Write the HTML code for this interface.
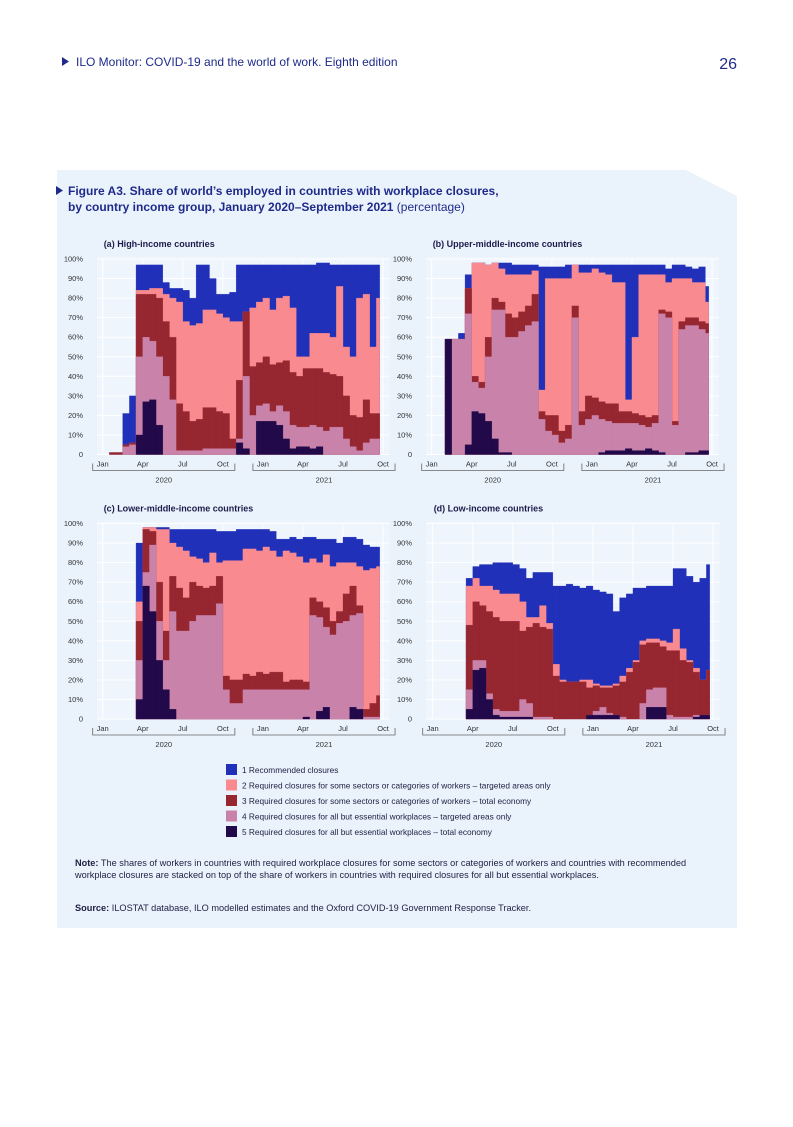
<!DOCTYPE html>
<html><head><meta charset="utf-8">
<style>
html,body{margin:0;padding:0;background:#fff;}
body{width:793px;height:1122px;position:relative;overflow:hidden;font-family:"Liberation Sans",sans-serif;}
svg text{font-family:"Liberation Sans",sans-serif;}
.note{position:absolute;left:75px;width:650px;font-size:9.2px;line-height:12px;color:#222244;}
</style></head>
<body>
<svg id="page" width="793" height="1122" viewBox="0 0 793 1122" xmlns="http://www.w3.org/2000/svg">
  <polygon points="57,170 686,170 737,196 737,928 57,928" fill="#eaf3fc"/>
  <polygon points="62,57 62,66 69,61.5" fill="#1f2a8a"/>
  <text x="76" y="66" font-size="12" fill="#1f2a8a">ILO Monitor: COVID-19 and the world of work. Eighth edition</text>
  <text x="737" y="69" font-size="16" fill="#1f2a8a" text-anchor="end">26</text>
  <polygon points="56,186 56,195 63,190.5" fill="#1f2a8a"/>
  <text x="68" y="195" font-size="12" font-weight="bold" fill="#1f2a8a">Figure A3.  Share of world’s employed in countries with workplace closures,</text>
  <text x="68" y="211" font-size="12" fill="#1f2a8a"><tspan font-weight="bold">by country income group, January 2020–September 2021</tspan> (percentage)</text>
  <g id="charts"></g>
  <g id="legend"></g>
</svg>
<div class="note" style="top:857px"><b>Note:</b> The shares of workers in countries with required workplace closures for some sectors or categories of workers and countries with recommended workplace closures are stacked on top of the share of workers in countries with required closures for all but essential workplaces.</div>
<div class="note" style="top:902px"><b>Source:</b> ILOSTAT database, ILO modelled estimates and the Oxford COVID-19 Government Response Tracker.</div>
<script>
// Cumulative shares (%) of employed in countries with closure level >= k, half-month bins Jan 2020 – Sep 2021
const monthLabels = ["Jan","Apr","Jul","Oct","Jan","Apr","Jul","Oct"];
const yTicks = [0,10,20,30,40,50,60,70,80,90,100];
const yearLabels = ["2020","2021"];
const seriesNames = ["1 Recommended closures","2 Required closures for some sectors or categories of workers – targeted areas only","3 Required closures for some sectors or categories of workers – total economy","4 Required closures for all but essential workplaces – targeted areas only","5 Required closures for all but essential workplaces – total economy"];
const seriesColors = ["#2130b8","#f98b90","#962630","#c983aa","#22094a"];

const aL5 = [0,0,0,0,0,10,27,28,15,0,0,0,0,0,0,0,0,0,0,0,6,3,0,17,17,17,15,8,3,4,4,3,4,0,0,0,0,0,0,0,0,0];
const aL4 = [0,0,0,4,5,50,60,58,50,40,28,2,2,2,2,3,3,3,3,3,8,40,20,25,26,22,25,22,15,14,14,15,14,12,14,14,8,4,2,6,8,8];
const aL3 = [0,1,1,5,6,82,82,82,80,68,60,26,22,17,18,24,24,22,21,8,38,73,45,47,50,46,47,48,42,40,44,44,44,42,41,40,30,20,19,28,21,21];
const aL2 = [0,1,1,5,6,84,84,85,85,82,80,78,68,66,67,74,74,72,70,68,68,73,75,78,80,74,80,81,75,50,50,62,62,62,60,86,55,50,80,82,55,80];
const aL1 = [0,1,1,21,30,97,97,97,97,88,85,85,84,80,97,97,90,82,82,83,97,97,97,97,97,97,97,97,97,97,97,97,98,98,97,97,97,97,97,97,97,97];

const bL5 = [0,0,59,0,0,5,22,21,17,8,1,1,0,0,0,0,0,0,0,0,0,0,0,0,0,1,2,2,2,3,2,2,3,2,1,0,0,0,1,1,2,2];
const bL4 = [0,0,59,59,59,72,37,34,50,74,74,60,60,63,66,68,18,12,10,6,8,70,15,18,20,18,17,16,16,16,16,15,14,16,72,70,15,64,66,66,64,62];
const bL3 = [0,0,59,59,59,85,40,37,60,80,78,72,70,73,76,82,22,20,20,12,15,76,22,30,29,27,26,26,22,22,21,20,19,20,74,73,17,68,70,70,68,67];
const bL2 = [0,0,59,59,59,85,98,98,97,98,95,92,92,92,92,94,33,90,90,90,90,97,93,93,95,93,92,88,88,28,60,92,92,92,92,88,90,90,90,88,88,78];
const bL1 = [0,0,59,59,62,92,98,98,97,98,98,98,97,97,97,97,96,96,96,96,97,97,97,97,97,97,97,97,97,97,97,97,97,97,97,95,97,97,96,95,96,86];

const cL5 = [0,0,0,0,0,10,68,55,30,15,5,0,0,0,0,0,0,0,0,0,0,0,0,0,0,0,0,0,0,0,1,0,4,6,0,0,0,6,5,0,0,0];
const cL4 = [0,0,0,0,0,30,75,89,50,30,55,45,45,50,53,53,53,59,15,8,8,15,15,15,15,15,15,15,15,15,15,53,52,47,43,49,50,53,54,1,1,1];
const cL3 = [0,0,0,0,0,50,97,96,70,45,73,67,62,70,68,67,68,73,22,20,20,23,22,24,23,24,24,19,20,20,19,62,60,57,50,55,64,68,58,5,8,12];
const cL2 = [0,0,0,0,0,60,98,98,97,97,90,88,86,83,82,80,85,80,81,81,81,87,87,86,88,86,83,86,85,83,80,82,80,84,78,80,80,80,78,76,77,78];
const cL1 = [0,0,0,0,0,90,98,98,98,98,97,97,97,97,97,97,97,96,96,96,97,97,97,97,97,96,92,92,93,92,93,93,92,92,92,90,93,93,92,89,88,88];

const dL5 = [0,0,0,0,0,5,25,26,10,2,1,1,1,1,1,0,0,0,0,0,0,0,0,2,2,2,2,2,0,0,0,0,6,6,6,0,0,0,0,1,2,2];
const dL4 = [0,0,0,0,0,15,30,30,13,5,4,4,4,10,8,1,1,1,0,0,0,0,0,2,4,6,3,2,1,0,0,8,15,16,16,2,1,1,1,2,2,2];
const dL3 = [0,0,0,0,0,48,60,58,55,52,50,50,50,45,47,49,47,46,22,19,19,19,19,16,17,16,16,17,19,24,29,38,39,39,37,35,35,30,29,24,20,25];
const dL2 = [0,0,0,0,0,68,72,68,68,66,64,64,64,60,52,52,58,49,28,20,19,19,20,20,18,17,17,18,22,26,30,40,41,41,40,39,46,36,30,26,20,25];
const dL1 = [0,0,0,0,0,72,78,79,79,80,80,80,79,77,72,75,75,75,68,68,69,68,67,68,66,65,64,55,62,64,67,67,68,68,68,68,77,77,73,70,72,79];

const charts = [
  {name:"high-income", title:"(a) High-income countries", x0:102.7, left:97, yZero:454.5, levels:[aL1,aL2,aL3,aL4,aL5]},
  {name:"upper-middle-income", title:"(b) Upper-middle-income countries", x0:431.7, left:426, yZero:454.5, levels:[bL1,bL2,bL3,bL4,bL5]},
  {name:"lower-middle-income", title:"(c) Lower-middle-income countries", x0:102.7, left:97, yZero:719, levels:[cL1,cL2,cL3,cL4,cL5]},
  {name:"low-income", title:"(d) Low-income countries", x0:432.7, left:426, yZero:719, levels:[dL1,dL2,dL3,dL4,dL5]}
];
const NS = "http://www.w3.org/2000/svg";
const MONTH_PX = 13.35, PCT_PX = 1.955, END_T = 20.75, BIN = 0.5;
function mk(tag, attrs, parent){const e=document.createElementNS(NS,tag);for(const k in attrs)e.setAttribute(k,attrs[k]);parent.appendChild(e);return e;}
const root = document.getElementById("charts");
charts.forEach(ch=>{
  const xs = t => ch.x0 + t*MONTH_PX;
  const ys = v => ch.yZero - v*PCT_PX;
  const g = mk("g",{},root);
  
  
  const right = xs(END_T)+10;
  const bg = mk("rect",{x:ch.left,y:ys(100)-2,width:right-ch.left,height:ys(0)-ys(100)+2,fill:"#eef5fd"},g);
  
  
  yTicks.forEach(v=>{
    const ln = mk("line",{x1:ch.left,x2:right,y1:ys(v),y2:ys(v),stroke:"#ffffff","stroke-width":1},g);
    
    
    const tx = mk("text",{x:ch.left-14,y:ys(v)+2.5,"font-size":7.5,fill:"#333","text-anchor":"end"},g);
    tx.textContent = v===0 ? "0" : v+"%";
    
    
  });
  monthLabels.forEach((m,i)=>{
    const t=i*3;
    const ln = mk("line",{x1:xs(t),x2:xs(t),y1:ys(100),y2:ys(0),stroke:"#ffffff","stroke-width":1},g);
    
    
    const tx = mk("text",{x:xs(t),y:ys(0)+12,"font-size":7.5,fill:"#333","text-anchor":"middle"},g);
    tx.textContent = m;
    
    
  });
  // stacked step areas, drawn from highest cumulative level down
  ch.levels.forEach((arr,k)=>{
    let d="";
    arr.forEach((v,i)=>{
      const t0=i*BIN, t1=Math.min(i*BIN+BIN,END_T);
      if(v<=0) return;
      d += `M${xs(t0).toFixed(2)},${ys(0)}V${ys(v).toFixed(2)}H${xs(t1).toFixed(2)}V${ys(0)}Z`;
    });
    const p = mk("path",{d:d,fill:seriesColors[k],stroke:seriesColors[k],"stroke-width":0.3},g);
    
    
  });
  const ttl = mk("text",{x:ch.x0+1,y:ys(100)-12,"font-size":9,"font-weight":"bold",fill:"#1c1c4a"},g);
  ttl.textContent = ch.title;
  
  
  yearLabels.forEach((yr,i)=>{
    const a = xs(i*12)-10, b = xs(i*12+9)+12;
    const yy = ys(0)+16;
    const br = mk("path",{d:`M${a},${yy-7}V${yy}H${b}V${yy-7}`,fill:"none",stroke:"#666",'stroke-width':0.8},g);
    
    
    const tx = mk("text",{x:(a+b)/2,y:yy+12,"font-size":7.5,fill:"#333","text-anchor":"middle"},g);
    tx.textContent = yr;
    
    
  });
});
const lg = document.getElementById("legend");
seriesNames.forEach((n,i)=>{
  const y = 764 + i*15.5;
  const r = mk("rect",{x:226,y:y,width:11,height:11,fill:seriesColors[i]},lg);
  
  
  const t = mk("text",{x:242,y:y+9,"font-size":8.3,fill:"#222244"},lg);
  t.textContent = n;
  
  
});
</script>
</body></html>
